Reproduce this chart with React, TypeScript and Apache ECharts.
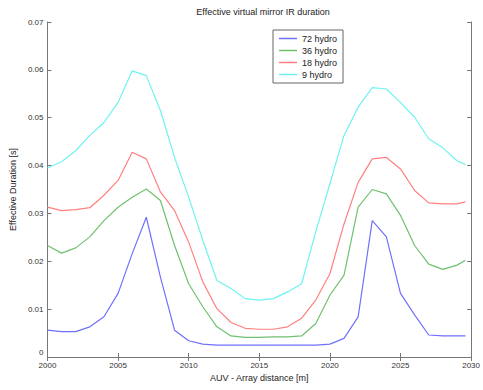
import React, { useEffect, useRef } from "react";
import * as echarts from "echarts";

const xs = [2000, 2001, 2002, 2003, 2004, 2005, 2006, 2007, 2008, 2009, 2010, 2011, 2012, 2013, 2014, 2015, 2016, 2017, 2018, 2019, 2020, 2021, 2022, 2023, 2024, 2025, 2026, 2027, 2028, 2029, 2029.6];

const hydro72 = [0.0056, 0.0053, 0.0053, 0.0063, 0.0084, 0.0133, 0.0216, 0.0292, 0.0167, 0.0056, 0.0034, 0.0027, 0.0025, 0.0025, 0.0025, 0.0025, 0.0025, 0.0025, 0.0025, 0.0025, 0.0027, 0.0039, 0.0084, 0.0285, 0.0251, 0.0133, 0.0088, 0.0046, 0.0044, 0.0044, 0.0044];
const hydro36 = [0.0233, 0.0217, 0.0228, 0.0251, 0.0285, 0.0313, 0.0334, 0.0351, 0.0327, 0.0233, 0.0153, 0.0105, 0.0063, 0.0044, 0.0041, 0.0041, 0.0042, 0.0042, 0.0044, 0.0070, 0.0129, 0.0171, 0.0313, 0.0350, 0.0341, 0.0296, 0.0233, 0.0194, 0.0183, 0.0192, 0.0202];
const hydro18 = [0.0313, 0.0306, 0.0308, 0.0312, 0.0338, 0.0369, 0.0428, 0.0414, 0.0345, 0.0306, 0.0240, 0.0157, 0.0101, 0.0072, 0.0060, 0.0058, 0.0058, 0.0063, 0.0081, 0.0119, 0.0174, 0.0278, 0.0365, 0.0414, 0.0417, 0.0393, 0.0348, 0.0322, 0.0320, 0.0320, 0.0324];
const hydro9 = [0.0395, 0.0408, 0.0431, 0.0463, 0.0490, 0.0532, 0.0598, 0.0588, 0.0515, 0.0417, 0.0334, 0.0244, 0.0160, 0.0143, 0.0122, 0.0119, 0.0122, 0.0136, 0.0153, 0.0262, 0.0362, 0.0463, 0.0522, 0.0563, 0.0560, 0.0532, 0.0501, 0.0456, 0.0437, 0.0410, 0.0402];

const seriesNames = ["72 hydro", "36 hydro", "18 hydro", "9 hydro"];
const seriesValues = [hydro72, hydro36, hydro18, hydro9];
const seriesColors = ["#7070ff", "#70c070", "#ff8080", "#70f2f2"];

const xTicks = [2000, 2005, 2010, 2015, 2020, 2025, 2030];
const yTicks = [0, 0.01, 0.02, 0.03, 0.04, 0.05, 0.06, 0.07];

const FONT = "Liberation Sans, Arial, sans-serif";

export default function App() {
  const ref = useRef<HTMLDivElement>(null);
  useEffect(() => {
    if (!ref.current) return;
    const chart = echarts.init(ref.current, null, { renderer: "svg" });
    const axisLine = { show: true, lineStyle: { color: "#777", width: 1 } };
    const tick = { show: true, inside: true, length: 4, lineStyle: { color: "#777" } };
    chart.setOption({
      animation: false,
      backgroundColor: "#fff",
      textStyle: { fontFamily: FONT },
      title: {
        text: "Effective virtual mirror IR duration",
        left: 258,
        textAlign: "center",
        top: 2,
        textStyle: { fontSize: 9, fontWeight: "normal", color: "#222", fontFamily: FONT },
      },
      grid: { left: 42, top: 22, right: 9, bottom: 33, containLabel: false },
      legend: {
        orient: "vertical",
        left: 273,
        top: 30,
        padding: [3, 6, 3, 6],
        itemGap: 1,
        icon: "rect",
        itemWidth: 18,
        itemHeight: 1.5,
        backgroundColor: "#fff",
        borderColor: "#666",
        borderWidth: 1,
        borderRadius: 0,
        textStyle: { fontSize: 9, color: "#222", fontFamily: FONT, lineHeight: 11 },
        data: seriesNames,
      },
      xAxis: [
        {
          type: "value",
          min: 2000,
          max: 2030,
          interval: 5,
          name: "AUV - Array distance [m]",
          nameLocation: "middle",
          nameGap: 14,
          nameTextStyle: { fontSize: 9, color: "#222" },
          axisLine,
          axisTick: tick,
          splitLine: { show: false },
          axisLabel: { fontSize: 8, color: "#333", margin: 4, formatter: (v: number) => (xTicks.includes(v) ? String(v) : "") },
        },
        {
          type: "value",
          position: "top",
          min: 2000,
          max: 2030,
          interval: 5,
          axisLine,
          axisTick: tick,
          splitLine: { show: false },
          axisLabel: { show: false },
        },
      ],
      yAxis: [
        {
          type: "value",
          min: 0,
          max: 0.07,
          interval: 0.01,
          name: "Effective Duration [s]",
          nameLocation: "middle",
          nameGap: 30,
          nameTextStyle: { fontSize: 9, color: "#222" },
          axisLine,
          axisTick: tick,
          splitLine: { show: false },
          axisLabel: {
            fontSize: 8,
            color: "#333",
            margin: 4,
            rich: { z: { fontSize: 8, color: "#333", padding: [0, 0, 9, 0] } },
            formatter: (v: number) => {
              const t = yTicks.find((y) => Math.abs(y - v) < 1e-9);
              return t === undefined ? "" : t === 0 ? "{z|0}" : String(Number(t.toFixed(2)));
            },
          },
        },
        {
          type: "value",
          position: "right",
          min: 0,
          max: 0.07,
          interval: 0.01,
          axisLine,
          axisTick: tick,
          splitLine: { show: false },
          axisLabel: { show: false },
        },
      ],
      series: seriesNames.map((name, i) => ({
        name,
        type: "line",
        symbol: "none",
        showSymbol: false,
        lineStyle: { color: seriesColors[i], width: 1.2 },
        itemStyle: { color: seriesColors[i] },
        data: xs.map((x, j) => [x, seriesValues[i][j]]),
      })),
    });
    return () => chart.dispose();
  }, []);
  return <div ref={ref} style={{ width: 483, height: 390, position: "absolute", left: 0, top: 0 }} />;
}
